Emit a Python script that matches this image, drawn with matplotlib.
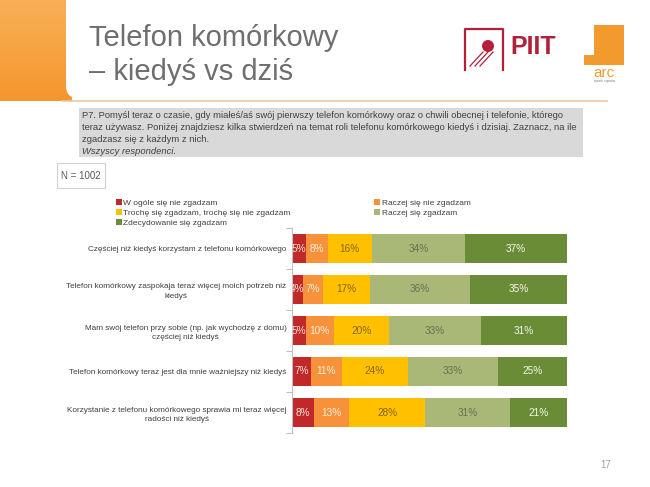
import numpy as np
import matplotlib.pyplot as plt
from matplotlib.patches import Rectangle, FancyBboxPatch, Circle

plt.rcParams['font.family'] = ['Liberation Sans', 'DejaVu Sans']

statements = ['Częściej niż kiedyś korzystam z telefonu komórkowego',
              'Telefon komórkowy zaspokaja teraz więcej moich potrzeb niż\nkiedyś',
              'Mam swój telefon przy sobie (np. jak wychodzę z domu)\nczęściej niż kiedyś',
              'Telefon komórkowy teraz jest dla mnie ważniejszy niż kiedyś',
              'Korzystanie z telefonu komórkowego sprawia mi teraz więcej\nradości niż kiedyś']
answers = ['W ogóle się nie zgadzam', 'Raczej się nie zgadzam',
           'Trochę się zgadzam, trochę się nie zgadzam', 'Raczej się zgadzam',
           'Zdecydowanie się zgadzam']
nie_zgadzam = [5, 4, 5, 7, 8]
raczej_nie = [8, 7, 10, 11, 13]
troche = [16, 17, 20, 24, 28]
raczej_tak = [34, 36, 33, 33, 31]
zdecydowanie = [37, 35, 31, 25, 21]

colors = ['#c0282a', '#f7923a', '#ffc000', '#aab877', '#6b8c37']
label_colors = ['#fbe3d6', '#fff0e0', '#86670a', '#68704f', '#f4f7ea']

W, H = 650, 487
fig = plt.figure(figsize=(6.5, 4.87), dpi=100)

# background layer in pixel coordinates
bg = fig.add_axes([0, 0, 1, 1])
bg.set_xlim(0, W)
bg.set_ylim(H, 0)
bg.axis('off')

grad = np.linspace(0, 1, 100).reshape(-1, 1)
bg.imshow(grad, cmap=plt.matplotlib.colors.LinearSegmentedColormap.from_list(
    'o', ['#f8b057', '#f5962c']), extent=(0, 72, 101, 0), aspect='auto', zorder=0)
bg.add_patch(FancyBboxPatch((66, -30), 640, 128, boxstyle='round,pad=0,rounding_size=12',
                            fc='white', ec='none', zorder=1))
bg.plot([62, 607], [100.5, 100.5], color='#e9c9a0', lw=1.2, zorder=2)

bg.text(89, 38, 'Telefon komórkowy', fontsize=21, color='#6e6e6e', va='center')
bg.text(89, 72, '– kiedyś vs dziś', fontsize=21, color='#6e6e6e', va='center')

# PIIT logo
bg.plot([465, 465, 503, 503], [70, 29, 29, 70], color='#b3203a', lw=1.6)
bg.add_patch(Circle((488, 46), 6, fc='#b3203a', ec='none'))
for dx in [0, 5, 10]:
    bg.plot([470 + dx, 483 + dx], [66, 52], color='#b3203a', lw=0.9)
bg.text(510, 47, 'PIIT', fontsize=18, fontweight='bold', color='#b3203a', va='center')

# arc logo
bg.add_patch(Rectangle((584, 25), 40, 40, fc='#f39a2e', ec='none'))
bg.add_patch(Rectangle((584, 25), 10, 30, fc='white', ec='none'))
bg.text(604, 73, 'arc', fontsize=11, color='#f39a2e', ha='center', va='center')
bg.text(604, 81, 'rynek i opinia', fontsize=2.5, color='#777777', ha='center', va='center')

# question box
bg.add_patch(Rectangle((79, 108), 504, 49, fc='#d9d9d9', ec='none'))
q = ['P7. Pomyśl teraz o czasie, gdy miałeś/aś swój pierwszy telefon komórkowy oraz o chwili obecnej i telefonie, którego',
     'teraz używasz. Poniżej znajdziesz kilka stwierdzeń na temat roli telefonu komórkowego kiedyś i dzisiaj. Zaznacz, na ile',
     'zgadzasz się z każdym z nich.']
for i, line in enumerate(q):
    bg.text(82, 115 + i * 12.3, line, fontsize=6.75, color='#404040', va='center')
bg.text(82, 152, 'Wszyscy respondenci.', fontsize=6.75, color='#404040', va='center', style='italic')

bg.add_patch(Rectangle((57, 163), 48, 25, fc='white', ec='#d0d0d0', lw=0.8))
bg.text(81, 176, 'N = 1002', fontsize=7, color='#595959', ha='center', va='center')

bg.text(606, 465, '17', fontsize=7, color='#a0a0a0', ha='center', va='center')

# chart
ax = fig.add_axes([292 / W, 1 - 433 / H, 275 / W, 205 / H])
data = np.array([nie_zgadzam, raczej_nie, troche, raczej_tak, zdecydowanie], dtype=float)
shares = data / data.sum(axis=0) * 100
y = np.arange(len(statements))
left = np.zeros(len(statements))
bars = []
for k in range(len(answers)):
    b = ax.barh(y, shares[k], left=left, height=0.71, color=colors[k], label=answers[k])
    bars.append(b)
    for j in range(len(statements)):
        ax.text(left[j] + shares[k][j] / 2, y[j], f'{int(data[k][j])}%', ha='center', va='center',
                fontsize=7.2, color=label_colors[k])
    left += shares[k]

ax.set_xlim(0, 100)
ax.set_ylim(len(statements) - 0.5, -0.5)
ax.set_yticks(y)
ax.set_yticklabels(statements, fontsize=5.9, color='#404040', ha='right',
                   multialignment='center', linespacing=1.55)
ax.tick_params(axis='y', length=0, pad=4)
ax.set_yticks(np.arange(-0.5, len(statements)), minor=True)
ax.tick_params(axis='y', which='minor', length=4, color='#bfbfbf', width=0.8)
ax.set_xticks([])
for s in ['top', 'right', 'bottom']:
    ax.spines[s].set_visible(False)
ax.spines['left'].set_color('#bfbfbf')
ax.spines['left'].set_linewidth(0.8)

order = [0, 2, 4, 1, 3]
fig.legend([bars[i] for i in order], [answers[i] for i in order], ncol=2, frameon=False,
           fontsize=6, labelcolor='#404040', handlelength=0.7, handleheight=0.7, handletextpad=0.2,
           columnspacing=10, labelspacing=0.25, borderaxespad=0, borderpad=0,
           loc='upper left', bbox_to_anchor=(116 / W, 1 - 199 / H))

fig.savefig('out.png', dpi=100)
